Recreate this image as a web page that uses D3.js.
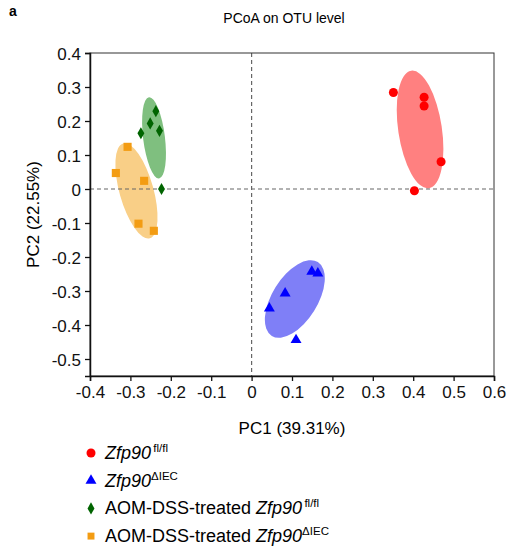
<!DOCTYPE html>
<meta charset="utf-8">
<style>
body { margin: 0; background: #fff; }
svg { font-family: "Liberation Sans", Arial, sans-serif; }
.tick text { font-size: 17px; fill: #111; }
</style>
<body>
<svg id="chart" width="508" height="548"></svg>
<script src="https://cdn.jsdelivr.net/npm/d3@7"></script>
<script>

// groups and their samples
var groups = ["flfl", "dIEC", "aomFlfl", "aomDIEC"];
var colors = ["#ff0000", "#0000ff", "#006400", "#f39c12"];
var fills  = ["#ff8080", "#7f7ff7", "#7fbf7f", "#f9cf87"];

var pc1 = [
  [0.351, 0.427, 0.427, 0.469, 0.403],
  [0.149, 0.164, 0.083, 0.044, 0.110],
  [-0.237, -0.251, -0.274, -0.228, -0.223],
  [-0.307, -0.336, -0.266, -0.280, -0.242]
];
var pc2 = [
  [0.284, 0.270, 0.244, 0.080, -0.005],
  [-0.243, -0.248, -0.307, -0.351, -0.444],
  [0.229, 0.193, 0.164, 0.171, 0.000],
  [0.124, 0.047, 0.024, -0.102, -0.123]
];

// ellipses: two ends of the long axis, and half width (PC1 units)
var ellA = [[0.395, 0.348], [0.164, -0.215], [-0.254, 0.270], [-0.318, 0.134]];
var ellB = [[0.439, 0.002], [0.050, -0.432], [-0.229, 0.031], [-0.252, -0.145]];
var ellW = [0.054, 0.056, 0.027, 0.042];

var xTicks = [-0.4, -0.3, -0.2, -0.1, 0, 0.1, 0.2, 0.3, 0.4, 0.5, 0.6];
var yTicks = [0.4, 0.3, 0.2, 0.1, 0, -0.1, -0.2, -0.3, -0.4, -0.5];

var legendPre = ["", "", "AOM-DSS-treated ", "AOM-DSS-treated "];
var legendSup = ["\u2009fl/fl", "\u0394IEC", "\u2009fl/fl", "\u0394IEC"];

var svg = d3.select("#chart");
var pLeft = 90, pRight = 494, pTop = 53, pBottom = 376;

var x = d3.scaleLinear().domain([-0.4, 0.6]).range([pLeft, pRight]);
var y = d3.scaleLinear().domain([-0.55, 0.4]).range([pBottom, pTop]);

var shapes = [d3.symbolCircle, d3.symbolTriangle, d3.symbolDiamond, d3.symbolSquare];
var sizes = [64, 52, 42, 66];

var fmt = function(d) { return d === 0 ? "0" : d.toFixed(1); };

svg.append("text")
  .attr("x", 9).attr("y", 16)
  .style("font-size", "14px").style("font-weight", "bold")
  .text("a");

svg.append("text")
  .attr("x", 284).attr("y", 23)
  .attr("text-anchor", "middle")
  .style("font-size", "14px")
  .text("PCoA on OTU level");

// ellipses
groups.forEach(function(g, i) {
  var ax = x(ellA[i][0]), ay = y(ellA[i][1]);
  var bx = x(ellB[i][0]), by = y(ellB[i][1]);
  var cx = (ax + bx) / 2, cy = (ay + by) / 2;
  var rx = Math.hypot(bx - ax, by - ay) / 2;
  var ry = x(ellW[i]) - x(0);
  var ang = Math.atan2(by - ay, bx - ax) * 180 / Math.PI;
  svg.append("ellipse")
    .attr("cx", cx).attr("cy", cy)
    .attr("rx", rx).attr("ry", ry)
    .attr("transform", "rotate(" + ang + "," + cx + "," + cy + ")")
    .attr("fill", fills[i]);
});

// zero lines
svg.append("line")
  .attr("x1", x(0)).attr("x2", x(0)).attr("y1", pTop).attr("y2", pBottom)
  .attr("stroke", "#666").attr("stroke-width", 1.2).attr("stroke-dasharray", "4,3");
svg.append("line")
  .attr("x1", pLeft).attr("x2", pRight).attr("y1", y(0)).attr("y2", y(0))
  .attr("stroke", "#666").attr("stroke-width", 1.2).attr("stroke-dasharray", "4,3");

// frame
svg.append("rect")
  .attr("x", pLeft).attr("y", pTop)
  .attr("width", pRight - pLeft).attr("height", pBottom - pTop)
  .attr("fill", "none").attr("stroke", "#333").attr("stroke-width", 1);

// axes
var xAxis = svg.append("g")
  .attr("transform", "translate(0," + pBottom + ")")
  .call(d3.axisBottom(x).tickValues(xTicks).tickFormat(fmt).tickSize(5).tickPadding(5));
var yAxis = svg.append("g")
  .attr("transform", "translate(" + pLeft + ",0)")
  .call(d3.axisLeft(y).tickValues(yTicks).tickFormat(fmt).tickSize(5).tickPadding(4));
[xAxis, yAxis].forEach(function(a) {
  a.select(".domain").attr("stroke", "#111").attr("stroke-width", 1.5);
  a.selectAll(".tick line").attr("stroke", "#111").attr("stroke-width", 1.3);
});
yAxis.selectAll(".tick text").attr("dy", "0.36em");

svg.append("text")
  .attr("x", x(0.1)).attr("y", 434)
  .attr("text-anchor", "middle")
  .style("font-size", "17px")
  .text("PC1 (39.31%)");

svg.append("text")
  .attr("transform", "translate(39," + ((pTop + pBottom) / 2) + ") rotate(-90)")
  .attr("text-anchor", "middle")
  .style("font-size", "17px")
  .text("PC2 (22.55%)");

// points
groups.forEach(function(g, i) {
  var pts = pc1[i].map(function(v, j) { return [v, pc2[i][j]]; });
  svg.append("g").selectAll("path")
    .data(pts)
    .join("path")
    .attr("transform", function(d) { return "translate(" + x(d[0]) + "," + y(d[1]) + ")"; })
    .attr("d", d3.symbol().type(shapes[i]).size(sizes[i]))
    .attr("fill", colors[i]);
});

// legend
var leg = svg.append("g");
groups.forEach(function(g, i) {
  var ly = 453 + i * 27.7;
  leg.append("path")
    .attr("transform", "translate(91," + ly + ")")
    .attr("d", d3.symbol().type(shapes[i]).size(i === 3 ? 48 : sizes[i]))
    .attr("fill", colors[i]);
  var t = leg.append("text")
    .attr("x", 105).attr("y", ly + 6)
    .style("font-size", "18px");
  if (legendPre[i]) t.append("tspan").text(legendPre[i]);
  t.append("tspan").style("font-style", "italic").text("Zfp90");
  t.append("tspan").attr("dy", -7).style("font-size", "11.5px").text(legendSup[i]);
});

</script>
</body>
